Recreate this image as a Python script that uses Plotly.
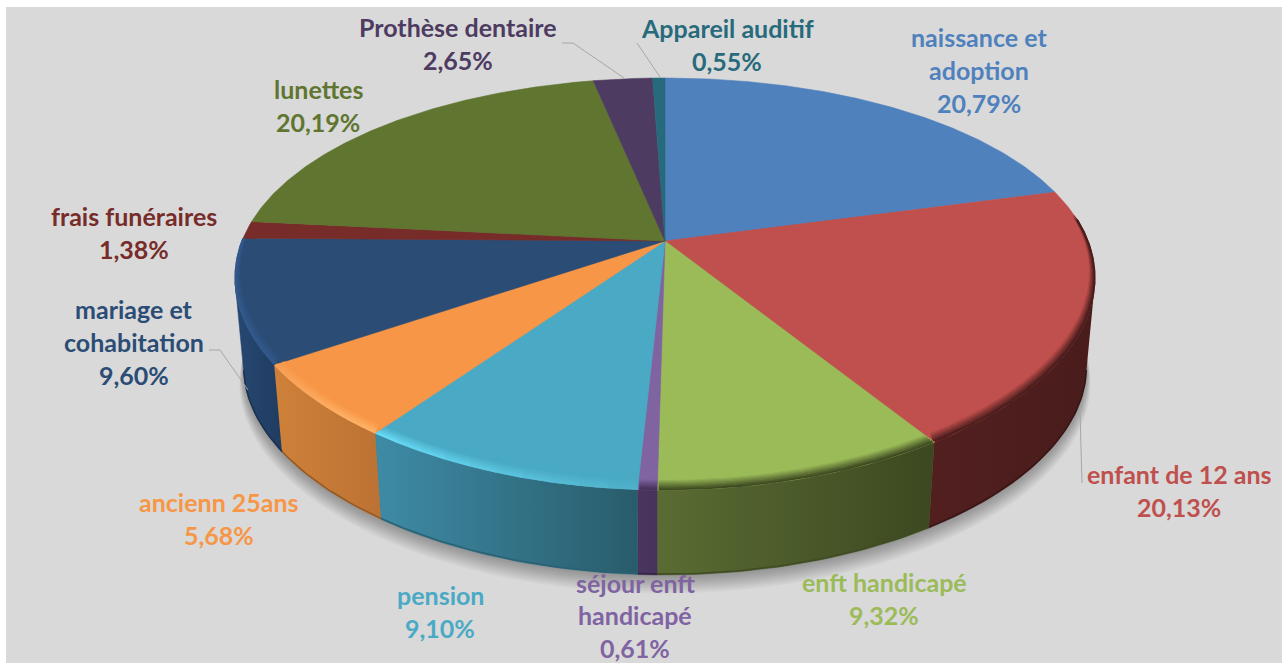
import numpy as np
import plotly.graph_objects as go

# ---- data ----
categories = ["naissance et<br>adoption", "enfant de 12 ans", "enft handicapé",
              "séjour enft<br>handicapé", "pension", "ancienn 25ans",
              "mariage et<br>cohabitation", "frais funéraires", "lunettes",
              "Prothèse dentaire", "Appareil auditif"]
values = [20.79, 20.13, 9.32, 0.61, 9.10, 5.68, 9.60, 1.38, 20.19, 2.65, 0.55]

# ---- styles ----
top_colors = ["#4f81bd", "#c0504d", "#9bbb59", "#8064a2", "#4aaac5", "#f79646",
              "#2b4d75", "#772c2a", "#5f7530", "#4d3b62", "#276a7c"]
text_colors = top_colors
wall_left = ["#2f4d71", "#521f1f", "#5a6c33", "#4a3560", "#3e8ba6", "#cf8139",
             "#274872", "#461a19", "#39461d", "#2e233b", "#173f4a"]
wall_right = ["#2f4d71", "#491c1c", "#3c4820", "#46325a", "#295c6b", "#bc7234",
              "#203c60", "#461a19", "#39461d", "#2e233b", "#173f4a"]
# bevel colour at the start and at the end of each slice's arc
rim_start = [None, "#4a1d1d", "#3f4b22", "#46325a", "#4fb0c8", "#ffb468", "#33598c",
             None, None, None, None]
rim_end = [None, "#4a1d1d", "#3f4b22", "#46325a", "#68dcf8", "#f9a057", "#33598c",
           None, None, None, None]

# label placement in pixels: centre x, first-line centre y
label_pos = [(979, 37), (1179, 474), (884, 582), (635, 582.5), (440, 595),
             (219, 502), (134, 309), (134, 216), (318, 89), (458, 27), (727, 28)]
LINE_H = 32.8
FONT_SIZE = 25
leaders = [([562, 573, 624], [43, 43, 78]),
           ([637, 660], [43, 77]),
           ([209, 220, 248], [350, 350, 390]),
           ([1080, 1082], [412, 483])]

# ---- projection: pie circle to picture with perspective ----
CX, CY, A, B, KX, KY = 665, 241, 423, 197, 0.18, 0.2087
BOT_SCALE, BOT_DROP = 0.98, 90
FRONT_FROM, FRONT_TO = 101.5, 258.5   # angles where the disc's outline turns from back to front


def project(theta_deg, r=1.0, scale=1.0, drop=0.0):
    t = np.radians(theta_deg)
    u, v = r * np.sin(t), r * np.cos(t)
    return CX + scale * A * u / (1 + KX * v), CY - scale * B * v / (1 + KY * v) + drop


def mix(c1, c2, f):
    a = [int(c1[i:i + 2], 16) for i in (1, 3, 5)]
    b = [int(c2[i:i + 2], 16) for i in (1, 3, 5)]
    return "#%02x%02x%02x" % tuple(round(x + (y - x) * f) for x, y in zip(a, b))


fracs = np.array(values) / sum(values) * 360
edges = np.concatenate([[0], np.cumsum(fracs)])
fig = go.Figure()


def poly(x, y, **kw):
    fig.add_trace(go.Scatter(x=x, y=y, mode="lines", fill="toself", hoverinfo="skip",
                             showlegend=False, **kw))


def stroke(x, y, width, color):
    fig.add_trace(go.Scatter(x=x, y=y, mode="lines", hoverinfo="skip", showlegend=False,
                             line=dict(width=width, color=color)))


def inside_wedge(x, y, a0, a1):
    xa, ya = project(np.array([a0, a1]))
    c0 = (xa[0] - CX) * (y - CY) - (ya[0] - CY) * (x - CX)
    c1 = (xa[1] - CX) * (y - CY) - (ya[1] - CY) * (x - CX)
    return (c0 >= 0) & (c1 <= 0)


# soft shadow below the disc
th = np.linspace(0, 360, 241)
for d in range(1, 15):
    x, y = project(th, scale=BOT_SCALE + d * 0.0007, drop=BOT_DROP + d * 1.15)
    poly(x, y, line=dict(width=0), fillcolor="rgba(0,0,0,0.022)")

# side walls (front part of the outline only)
for i in range(len(values)):
    lo, hi = max(edges[i], FRONT_FROM), min(edges[i + 1], FRONT_TO)
    if hi <= lo:
        continue
    t = np.linspace(lo, hi, max(3, int(hi - lo) + 2))
    x1, y1 = project(t)
    x2, y2 = project(t[::-1], scale=BOT_SCALE, drop=BOT_DROP)
    c1, c2 = wall_left[i], wall_right[i]
    poly(np.r_[x1, x2], np.r_[y1, y2], line=dict(width=0.5, color=mix(c1, c2, 0.5)),
         fillgradient=dict(type="horizontal", colorscale=[[0, c1], [1, c2]]))
    xb, yb = project(t, scale=BOT_SCALE, drop=BOT_DROP - 1)
    stroke(xb, yb, 1.5, mix(c1, "#000000", 0.3))

# top faces
for i in range(len(values)):
    t = np.linspace(edges[i], edges[i + 1], max(3, int(fracs[i] * 2) + 2))
    x, y = project(t)
    poly(np.r_[CX, x, CX], np.r_[CY, y, CY], fillcolor=top_colors[i],
         line=dict(width=0.6, color=top_colors[i]))

# bevel band round the front of the top face, drawn from inner to outer
BANDS = 8
for s in range(BANDS, -1, -1):
    f = 1 - s / BANDS
    r = 1 - (s + 0.5) * 0.0015
    for i in range(len(values)):
        if rim_start[i] is None:
            continue
        lo, hi = max(edges[i], 84), min(edges[i + 1], 292)
        pieces = 10 if rim_start[i] != rim_end[i] else 1
        grid = np.linspace(lo, hi, pieces + 1)
        for j in range(pieces):
            tt = np.arange(grid[j], grid[j + 1] + 0.2, 0.2)
            x, y = project(tt, r=r, drop=-(s + 0.5) * 0.75)
            keep = inside_wedge(x, y, edges[i], edges[i + 1])
            if keep.sum() < 2:
                continue
            rim = mix(rim_start[i], rim_end[i], (j + 0.5) / pieces)
            stroke(x[keep], y[keep], 1.8, mix(top_colors[i], rim, f))

# leader lines
for lx, ly in leaders:
    stroke(lx, ly, 1, "#a6a6a6")

# labels
annotations = []
for i, name in enumerate(categories):
    lines = name.split("<br>") + [("%.2f%%" % values[i]).replace(".", ",")]
    lx, ly = label_pos[i]
    for j, line in enumerate(lines):
        annotations.append(dict(x=lx, y=ly + j * LINE_H, text=line, showarrow=False, borderpad=0,
                                xanchor="center", yanchor="middle", xref="x", yref="y",
                                font=dict(family="Lato", size=FONT_SIZE, color=text_colors[i], weight=700)))

fig.update_layout(
    width=1282, height=663, margin=dict(l=0, r=0, t=0, b=0),
    paper_bgcolor="#ffffff", plot_bgcolor="#ffffff", showlegend=False,
    annotations=annotations,
    shapes=[dict(type="rect", xref="x", yref="y", x0=6, x1=1282, y0=7, y1=663,
                 fillcolor="#d9d9d9", line_width=0, layer="below")],
    xaxis=dict(range=[0, 1282], visible=False, fixedrange=True),
    yaxis=dict(range=[663, 0], visible=False, fixedrange=True),
)
fig.write_html("out.html", config={"displayModeBar": False},
               post_script="document.body.style.margin='0';")
